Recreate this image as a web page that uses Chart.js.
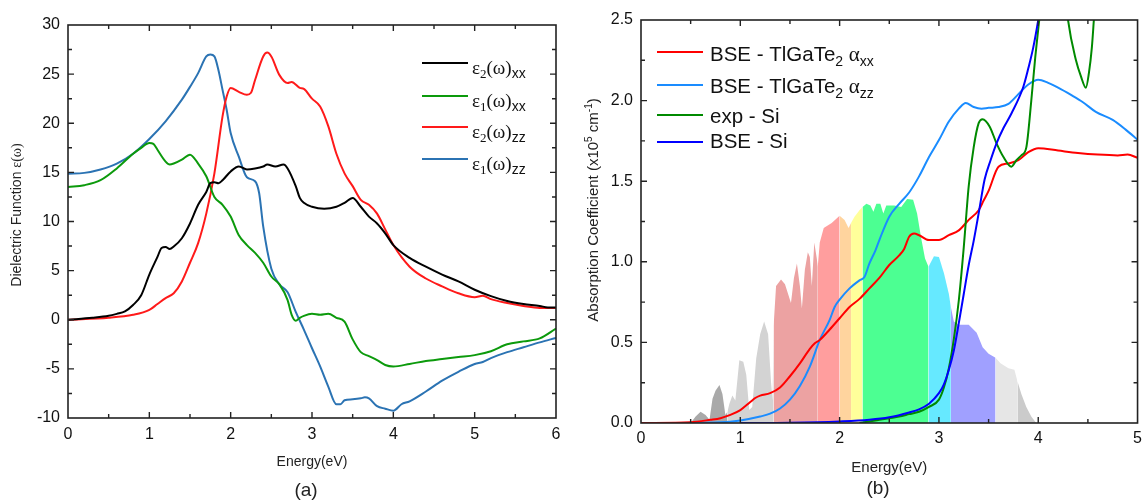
<!DOCTYPE html>
<html>
<head>
<meta charset="utf-8">
<title>Dielectric function and absorption</title>
<script src="https://cdn.jsdelivr.net/npm/chart.js@4.4.1/dist/chart.umd.min.js"></script>
<style>
  html, body { margin: 0; padding: 0; background: #fff; }
  #wrap { position: relative; width: 1148px; height: 500px; overflow: hidden; }
  #chartA { position: absolute; left: 0; top: 0; }
  #chartB { position: absolute; left: 580px; top: 0; }
  .cap { position: absolute; font: 19px 'Liberation Sans', Arial, sans-serif; color: #222;
         transform: translate(-50%, -50%); }
</style>
</head>
<body>
<div id="wrap">
  <canvas id="chartA" width="580" height="500"></canvas>
  <canvas id="chartB" width="568" height="500"></canvas>
  <div class="cap" style="left:306px; top:490px">(a)</div>
  <div class="cap" style="left:878px; top:488px">(b)</div>
</div>
<script>
// ---------- panel (a): dielectric function ----------
const e2xxEnergy = [0,0.3,0.5,0.6,0.7,0.8,0.9,1.0,1.1,1.15,1.2,1.25,1.3,1.4,1.5,1.6,1.7,1.75,1.8,1.85,1.9,2.0,2.1,2.2,2.3,2.4,2.45,2.55,2.65,2.7,2.8,2.85,2.9,3.0,3.15,3.3,3.4,3.5,3.6,3.7,3.8,3.9,4.0,4.2,4.4,4.6,4.8,5.0,5.2,5.4,5.6,5.8,5.9,6.0];
const e2xxValues = [0,0.2,0.4,0.6,0.85,1.5,2.5,4.6,6.4,7.3,7.4,7.2,7.45,8.3,9.8,11.7,13.0,13.9,14.0,13.9,14.2,15.1,15.6,15.3,15.4,15.6,15.8,15.6,15.8,15.4,13.6,12.4,11.9,11.5,11.3,11.5,11.9,12.4,11.5,10.5,9.8,8.8,7.6,6.3,5.4,4.6,3.9,3.05,2.4,1.9,1.6,1.4,1.25,1.25];

const e1xxEnergy = [0,0.2,0.4,0.6,0.8,0.9,1.0,1.05,1.1,1.2,1.25,1.3,1.4,1.5,1.6,1.7,1.8,1.9,2.0,2.1,2.2,2.3,2.4,2.5,2.6,2.7,2.75,2.8,2.85,2.9,3.0,3.1,3.2,3.3,3.4,3.5,3.6,3.7,3.8,3.9,4.0,4.2,4.4,4.6,4.8,5.0,5.2,5.4,5.6,5.8,6.0];
const e1xxValues = [13.5,13.7,14.2,15.4,16.9,17.5,18.0,17.9,17.3,16.1,15.8,15.9,16.3,16.8,15.9,14.6,12.5,11.7,10.5,8.6,7.6,6.8,5.8,4.4,3.6,2.0,0.5,-0.1,0.2,0.4,0.6,0.5,0.6,0.2,-0.2,-2.0,-3.3,-3.7,-4.1,-4.6,-4.75,-4.5,-4.2,-4.0,-3.8,-3.6,-3.2,-2.5,-2.2,-1.9,-0.9];

const e2zzEnergy = [0,0.5,0.8,1.0,1.1,1.2,1.3,1.4,1.5,1.6,1.7,1.8,1.9,1.95,2.0,2.1,2.2,2.25,2.3,2.4,2.45,2.5,2.6,2.7,2.75,2.85,2.9,3.0,3.1,3.2,3.3,3.4,3.5,3.6,3.7,3.8,3.9,4.0,4.2,4.4,4.6,4.8,5.0,5.1,5.2,5.4,5.6,5.8,6.0];
const e2zzValues = [0,0.2,0.5,1.0,1.6,2.2,2.7,3.9,5.8,7.8,10.8,14.9,20.7,22.7,23.6,23.2,22.9,23.1,24.4,26.8,27.2,26.8,24.9,24.1,24.2,23.6,23.5,22.5,21.7,19.7,16.9,14.9,13.6,12.2,11.7,10.8,9.2,7.6,5.4,4.2,3.4,2.7,2.3,2.45,2.1,1.7,1.4,1.2,1.2];

const e1zzEnergy = [0,0.2,0.4,0.6,0.8,1.0,1.2,1.4,1.5,1.6,1.7,1.75,1.8,1.85,1.9,1.95,2.0,2.1,2.2,2.3,2.35,2.4,2.5,2.6,2.7,2.8,2.9,3.0,3.1,3.2,3.3,3.35,3.4,3.5,3.6,3.65,3.7,3.8,3.9,4.0,4.1,4.2,4.4,4.6,4.8,5.0,5.1,5.2,5.4,5.6,5.8,6.0];
const e1zzValues = [14.85,14.95,15.3,15.9,16.9,18.4,20.2,22.4,23.7,25.1,26.8,27.0,26.8,25.4,23.4,21.4,19.0,16.6,14.5,14.1,12.9,9.5,5.2,3.6,2.8,0.8,-1.0,-2.9,-4.75,-6.8,-8.6,-8.6,-8.2,-8.1,-8.0,-7.9,-8.0,-8.8,-9.05,-9.25,-8.6,-8.3,-7.3,-6.2,-5.3,-4.5,-4.3,-3.9,-3.3,-2.8,-2.3,-1.85];

const ticksAX = [0, 1, 2, 3, 4, 5, 6];
const ticksAY = [-10, -5, 0, 5, 10, 15, 20, 25, 30];

// ---------- panel (b): absorption coefficient (x10^5 cm^-1) ----------
const axxEnergy = [0,0.5,0.7,0.8,0.9,1.0,1.1,1.15,1.2,1.3,1.4,1.5,1.6,1.7,1.75,1.8,1.9,2.0,2.1,2.2,2.3,2.4,2.5,2.6,2.65,2.7,2.75,2.8,2.9,3.0,3.1,3.2,3.3,3.4,3.45,3.5,3.6,3.7,3.8,3.9,4.0,4.2,4.4,4.6,4.8,4.9,5.0];
const axxValues = [0,0.005,0.02,0.03,0.05,0.08,0.13,0.155,0.17,0.185,0.22,0.29,0.37,0.46,0.495,0.515,0.58,0.65,0.72,0.77,0.835,0.90,0.98,1.04,1.08,1.155,1.175,1.165,1.135,1.135,1.165,1.195,1.26,1.32,1.38,1.44,1.59,1.61,1.63,1.68,1.705,1.69,1.675,1.665,1.66,1.665,1.645];

const azzEnergy = [0,0.8,1.0,1.2,1.3,1.4,1.5,1.6,1.7,1.8,1.9,1.95,2.0,2.1,2.2,2.25,2.3,2.36,2.4,2.5,2.6,2.7,2.8,2.9,3.0,3.1,3.2,3.27,3.35,3.43,3.5,3.6,3.7,3.8,3.9,4.0,4.1,4.2,4.33,4.45,4.58,4.75,4.88,5.0];
const azzValues = [0,0.005,0.016,0.04,0.058,0.09,0.145,0.23,0.35,0.515,0.64,0.72,0.765,0.835,0.885,0.905,0.99,1.07,1.135,1.28,1.36,1.43,1.53,1.65,1.755,1.87,1.95,1.985,1.96,1.95,1.955,1.96,1.98,2.04,2.1,2.13,2.11,2.08,2.035,1.99,1.93,1.88,1.82,1.757];

const expSiEnergy = [2.2,2.4,2.5,2.6,2.7,2.8,2.9,3.0,3.05,3.1,3.15,3.2,3.25,3.3,3.35,3.4,3.44,3.51,3.58,3.65,3.73,3.78,3.83,3.88,3.93,3.97,4.01,4.06,4.17,4.25,4.30,4.38,4.43,4.48,4.51,4.54,4.56,4.6];
const expSiValues = [0,0.02,0.03,0.04,0.055,0.07,0.1,0.145,0.22,0.34,0.52,0.76,1.09,1.47,1.71,1.86,1.885,1.84,1.735,1.65,1.59,1.63,1.66,1.71,2.0,2.27,2.5,2.8,3.1,2.8,2.5,2.25,2.15,2.08,2.17,2.33,2.5,2.85];

const bseSiEnergy = [1.0,1.5,2.0,2.3,2.5,2.7,2.8,2.9,3.0,3.05,3.1,3.15,3.2,3.25,3.3,3.35,3.4,3.46,3.52,3.58,3.65,3.73,3.85,3.9,3.95,4.0,4.05];
const bseSiValues = [0,0.002,0.01,0.02,0.035,0.065,0.085,0.12,0.185,0.24,0.33,0.45,0.62,0.8,0.98,1.13,1.30,1.51,1.63,1.735,1.83,1.92,2.086,2.2,2.33,2.5,2.7];

// solar spectrum shape behind the curves, split in coloured bands
const solarEnergy = [0.50,0.55,0.60,0.65,0.69,0.72,0.75,0.79,0.82,0.85,0.87,0.89,0.92,0.95,0.99,1.03,1.06,1.09,1.12,1.16,1.20,1.24,1.28,1.31,1.325,1.335,1.36,1.41,1.45,1.51,1.54,1.57,1.60,1.62,1.65,1.68,1.70,1.72,1.745,1.77,1.78,1.80,1.84,1.92,2.00,2.05,2.09,2.115,2.15,2.20,2.23,2.27,2.31,2.34,2.37,2.41,2.44,2.47,2.55,2.62,2.68,2.74,2.78,2.82,2.86,2.895,2.95,3.00,3.05,3.10,3.12,3.15,3.20,3.30,3.38,3.44,3.50,3.57,3.62,3.70,3.76,3.79,3.83,3.88,3.93,3.98];
const solarValues = [0.00,0.04,0.07,0.05,0.02,0.15,0.20,0.236,0.18,0.05,0.07,0.12,0.17,0.14,0.39,0.38,0.30,0.08,0.10,0.40,0.55,0.63,0.55,0.25,0.14,0.60,0.85,0.89,0.86,0.745,0.90,0.99,0.85,0.71,0.95,1.06,1.03,0.85,1.12,1.02,0.97,1.12,1.21,1.24,1.285,1.26,1.21,1.24,1.28,1.32,1.34,1.36,1.35,1.31,1.36,1.36,1.30,1.35,1.35,1.34,1.39,1.385,1.30,1.15,1.02,0.97,1.035,1.03,0.93,0.80,0.72,0.63,0.61,0.61,0.56,0.47,0.43,0.405,0.37,0.34,0.33,0.26,0.18,0.10,0.04,0.00];
const bandEdges = [0.5, 0.87, 1.335, 1.78, 2.0, 2.115, 2.23, 2.895, 3.12, 3.57, 3.79, 3.98];
const bandColors = ['#a9a9a9', '#d3d3d3', '#eca2a2', '#ff9e9e', '#ffd49e', '#ffff9a', '#4cff92', '#66e9ff', '#a0a0ff', '#e6e6e6', '#cbcbcb'];

const ticksBX = [0, 1, 2, 3, 4, 5];
const ticksBY = [0, 0.5, 1.0, 1.5, 2.0, 2.5];

// ---------- helpers ----------
Chart.defaults.font.family = "'Liberation Sans', Arial, sans-serif";
Chart.defaults.color = '#111';

const SANS = "'Liberation Sans', Arial, sans-serif";
const SERIF = "'Liberation Serif', 'Times New Roman', serif";

const pts = (xs, ys) => xs.map((x, i) => ({ x: x, y: ys[i] }));

function lineSet(label, xs, ys, color, order) {
    return {
        label: label,
        data: pts(xs, ys),
        borderColor: color,
        borderWidth: 2,
        pointRadius: 0,
        fill: false,
        cubicInterpolationMode: 'monotone',
        order: order || 0
    };
}

function bandSets() {
    const sets = [];
    for (let i = 0; i < bandColors.length; i++) {
        const lo = bandEdges[i], hi = bandEdges[i + 1];
        const data = [];
        solarEnergy.forEach((e, k) => {
            if (e >= lo - 1e-9 && e <= hi + 1e-9) data.push({ x: e, y: solarValues[k] });
        });
        sets.push({
            label: 'band' + i,
            data: data,
            borderWidth: 0,
            borderColor: 'rgba(0,0,0,0)',
            backgroundColor: bandColors[i],
            pointRadius: 0,
            fill: 'origin',
            tension: 0,
            order: 20
        });
    }
    return sets;
}

function runsWidth(ctx, runs) {
    let w = 0;
    runs.forEach(r => { ctx.font = r.f; w += ctx.measureText(r.t).width; });
    return w;
}

function drawRuns(ctx, x, y, runs) {
    let cx = x;
    runs.forEach(r => {
        ctx.font = r.f;
        ctx.fillText(r.t, cx, y + (r.dy || 0));
        cx += ctx.measureText(r.t).width;
    });
}

// box round the plot and inward ticks on all four sides
function frameTicks(cfg) {
    return {
        id: 'frameTicks',
        afterDatasetsDraw(chart) {
            const { ctx, chartArea: a, scales: { x, y } } = chart;
            ctx.save();
            ctx.strokeStyle = '#222';
            ctx.lineWidth = 1.6;
            ctx.strokeRect(a.left, a.top, a.right - a.left, a.bottom - a.top);
            ctx.lineWidth = 1.4;
            ctx.beginPath();
            const nx = Math.round((x.max - x.min) / cfg.xMinor);
            for (let i = 1; i < nx; i++) {
                const px = x.getPixelForValue(x.min + i * cfg.xMinor);
                const len = i % cfg.xRatio === 0 ? 6 : 4;
                ctx.moveTo(px, a.bottom); ctx.lineTo(px, a.bottom - len);
                ctx.moveTo(px, a.top); ctx.lineTo(px, a.top + len);
            }
            const ny = Math.round((y.max - y.min) / cfg.yMinor);
            for (let i = 1; i < ny; i++) {
                const py = y.getPixelForValue(y.min + i * cfg.yMinor);
                const len = i % cfg.yRatio === 0 ? 6 : 4;
                ctx.moveTo(a.left, py); ctx.lineTo(a.left + len, py);
                ctx.moveTo(a.right, py); ctx.lineTo(a.right - len, py);
            }
            ctx.stroke();
            ctx.restore();
        }
    };
}

// legend with sub/superscripts and the rotated y title
function extras(cfg) {
    return {
        id: 'extras',
        afterDraw(chart) {
            const ctx = chart.ctx;
            ctx.save();
            ctx.fillStyle = '#111';
            ctx.textBaseline = 'alphabetic';
            cfg.legend.forEach(it => {
                ctx.strokeStyle = it.color;
                ctx.lineWidth = 2;
                ctx.beginPath();
                ctx.moveTo(cfg.lineX0, it.lineY);
                ctx.lineTo(cfg.lineX1, it.lineY);
                ctx.stroke();
                drawRuns(ctx, cfg.textX, it.baseY, it.runs);
            });
            const t = cfg.yTitle;
            ctx.fillStyle = '#222';
            ctx.translate(t.x, t.y);
            ctx.rotate(-Math.PI / 2);
            ctx.textBaseline = 'middle';
            drawRuns(ctx, -runsWidth(ctx, t.runs) / 2, 0, t.runs);
            ctx.restore();
        }
    };
}

function scalesFor(xMin, xMax, xTicks, yMin, yMax, yTicks, yFmt, yWidth, xHeight, xPad, title, titleSize, titleBottom) {
    return {
        x: {
            type: 'linear', min: xMin, max: xMax,
            afterBuildTicks: s => { s.ticks = xTicks.map(v => ({ value: v })); },
            afterFit: s => { s.height = xHeight; },
            grid: { display: false, drawTicks: false },
            border: { display: false },
            ticks: { padding: xPad, font: { size: 16 }, color: '#111', maxRotation: 0, autoSkip: false },
            title: { display: true, text: title, color: '#222', font: { size: titleSize },
                     padding: { top: 0, bottom: titleBottom } }
        },
        y: {
            type: 'linear', min: yMin, max: yMax,
            afterBuildTicks: s => { s.ticks = yTicks.map(v => ({ value: v })); },
            afterFit: s => { s.width = yWidth; },
            grid: { display: false, drawTicks: false },
            border: { display: false },
            ticks: { padding: 8, font: { size: 16 }, color: '#111', autoSkip: false, callback: yFmt }
        }
    };
}

// ---------- chart (a) ----------
const sA = { f: '19px ' + SERIF };
const epsRuns = (n, sub) => [
    { t: 'ε', f: '19px ' + SERIF },
    { t: n, f: '13px ' + SERIF, dy: 4 },
    { t: '(ω)', f: '19px ' + SERIF },
    { t: sub, f: '14px ' + SANS, dy: 4 }
];

new Chart(document.getElementById('chartA'), {
    type: 'line',
    data: {
        datasets: [
            lineSet('e2xx', e2xxEnergy, e2xxValues, '#000000', 1),
            lineSet('e1xx', e1xxEnergy, e1xxValues, '#0c9a0c', 2),
            lineSet('e2zz', e2zzEnergy, e2zzValues, '#ff1a1a', 3),
            lineSet('e1zz', e1zzEnergy, e1zzValues, '#2b73b3', 4)
        ]
    },
    options: {
        responsive: false,
        animation: false,
        layout: { padding: { left: 0, top: 25, right: 24, bottom: 0 } },
        plugins: { legend: { display: false }, tooltip: { enabled: false } },
        scales: scalesFor(0, 6, ticksAX, -10, 30, ticksAY, v => String(v), 68, 82, 7, 'Energy(eV)', 14, 29.6)
    },
    plugins: [
        frameTicks({ xMinor: 0.5, xRatio: 2, yMinor: 2.5, yRatio: 2 }),
        extras({
            lineX0: 422, lineX1: 468, textX: 472,
            legend: [
                { color: '#000000', lineY: 63, baseY: 74, runs: epsRuns('2', 'xx') },
                { color: '#0c9a0c', lineY: 96, baseY: 107, runs: epsRuns('1', 'xx') },
                { color: '#ff1a1a', lineY: 127, baseY: 138, runs: epsRuns('2', 'zz') },
                { color: '#2b73b3', lineY: 159, baseY: 170, runs: epsRuns('1', 'zz') }
            ],
            yTitle: { x: 17, y: 215, runs: [
                { t: 'Dielectric Function ', f: '14px ' + SANS },
                { t: 'ε(ω)', f: '14px ' + SERIF }
            ] }
        })
    ]
});

// ---------- chart (b) ----------
const bseRuns = sub => [
    { t: 'BSE - TlGaTe', f: '20.5px ' + SANS },
    { t: '2', f: '14px ' + SANS, dy: 5 },
    { t: ' ', f: '20.5px ' + SANS },
    { t: 'α', f: '21px ' + SERIF },
    { t: sub, f: '14px ' + SANS, dy: 5 }
];

new Chart(document.getElementById('chartB'), {
    type: 'line',
    data: {
        datasets: [
            lineSet('BSE - Si', bseSiEnergy, bseSiValues, '#0000ff', 1),
            lineSet('exp - Si', expSiEnergy, expSiValues, '#008a00', 2),
            lineSet('BSE - TlGaTe2 axx', axxEnergy, axxValues, '#ff0000', 3),
            lineSet('BSE - TlGaTe2 azz', azzEnergy, azzValues, '#1a8cff', 4)
        ].concat(bandSets())
    },
    options: {
        responsive: false,
        animation: false,
        layout: { padding: { left: 0, top: 20, right: 6, bottom: 0 } },
        plugins: { legend: { display: false }, tooltip: { enabled: false } },
        scales: scalesFor(0, 5, ticksBX, 0, 2.5, ticksBY, v => Number(v).toFixed(1), 61, 77, 6, 'Energy(eV)', 15, 23)
    },
    plugins: [
        frameTicks({ xMinor: 0.5, xRatio: 2, yMinor: 0.25, yRatio: 2 }),
        extras({
            lineX0: 77, lineX1: 123, textX: 130,
            legend: [
                { color: '#ff0000', lineY: 52, baseY: 61, runs: bseRuns('xx') },
                { color: '#1a8cff', lineY: 85, baseY: 93, runs: bseRuns('zz') },
                { color: '#008a00', lineY: 115, baseY: 123, runs: [{ t: 'exp - Si', f: '20.5px ' + SANS }] },
                { color: '#0000ff', lineY: 142, baseY: 148, runs: [{ t: 'BSE - Si', f: '20.5px ' + SANS }] }
            ],
            yTitle: { x: 14, y: 210, runs: [
                { t: 'Absorption Coefficient (x10', f: '15px ' + SANS },
                { t: '5', f: '10px ' + SANS, dy: -5 },
                { t: ' cm', f: '15px ' + SANS },
                { t: '-1', f: '10px ' + SANS, dy: -5 },
                { t: ')', f: '15px ' + SANS }
            ] }
        })
    ]
});
</script>
</body>
</html>
